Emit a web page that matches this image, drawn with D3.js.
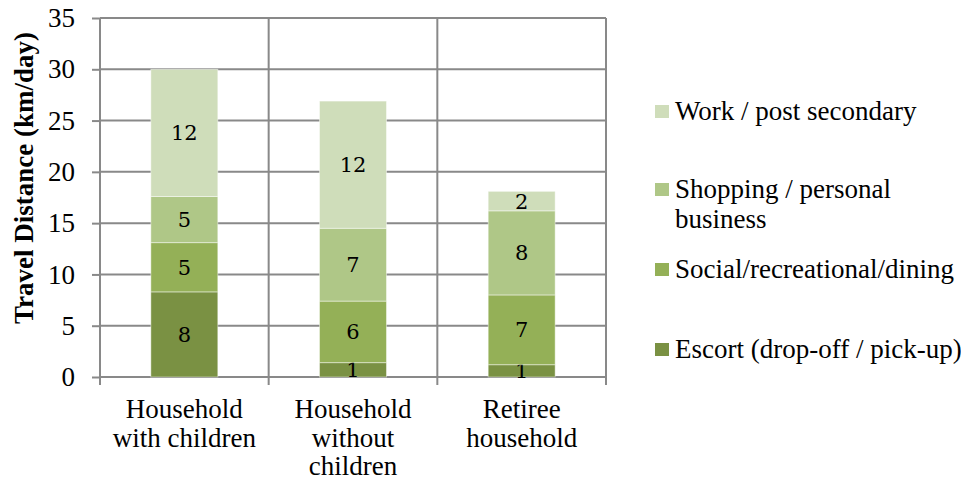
<!DOCTYPE html>
<html>
<head>
<meta charset="utf-8">
<script src="https://cdn.jsdelivr.net/npm/d3@7"></script>
<style>
  html, body { margin: 0; padding: 0; background: #fff; }
  svg { display: block; }
  text { font-family: "Liberation Serif", "Times New Roman", serif; fill: #000; }
</style>
</head>
<body>
<svg id="chart" width="961" height="483"></svg>
<script>
// Household types (x categories, each label split into lines)
const categories = ["Household with children", "Household without children", "Retiree household"];
const categoryLines = [["Household", "with children"], ["Household", "without", "children"], ["Retiree", "household"]];

// Trip purposes, stacked bottom to top
const series = ["Escort (drop-off / pick-up)", "Social/recreational/dining", "Shopping / personal business", "Work / post secondary"];
const legendLines = [["Escort (drop-off / pick-up)"], ["Social/recreational/dining"], ["Shopping / personal", "business"], ["Work / post secondary"]];
const seriesColors = ["#7a9143", "#94b057", "#afc787", "#cfddba"];

// Travel distance (km/day) per purpose, one value per household type
const escort   = [8.3, 1.4, 1.2];
const social   = [4.8, 6.0, 6.8];
const shopping = [4.5, 7.1, 8.2];
const work     = [12.4, 12.4, 1.9];

const yTicks = [0, 5, 10, 15, 20, 25, 30, 35];
const yTitle = "Travel Distance (km/day)";

const values = [escort, social, shopping, work];
const rows = categories.map((c, i) => {
  const r = { category: c };
  series.forEach((s, k) => { r[s] = values[k][i]; });
  return r;
});

const svg = d3.select("#chart");
const plotLeft = 100, plotRight = 606, plotTop = 18, plotBottom = 377;
const fontSize = "27px";

const x = d3.scaleBand().domain(categories).range([plotLeft, plotRight])
  .paddingInner(0.603).paddingOuter(0.3015);
const y = d3.scaleLinear().domain([0, 35]).range([plotBottom, plotTop]);

const gridColor = "#898989";

// horizontal gridlines
svg.append("g").selectAll("line").data(yTicks).join("line")
  .attr("x1", plotLeft).attr("x2", plotRight)
  .attr("y1", d => y(d)).attr("y2", d => y(d))
  .attr("stroke", gridColor).attr("stroke-width", 2);

// vertical separators between categories, extending below as tick marks
const step = x.step();
const bounds = [plotLeft].concat(categories.map(c => x(c) + x.bandwidth() / 2 + step / 2));
svg.append("g").selectAll("line").data(bounds).join("line")
  .attr("x1", d => d).attr("x2", d => d)
  .attr("y1", plotTop).attr("y2", plotBottom + 8)
  .attr("stroke", gridColor).attr("stroke-width", 2);

// y axis with outward ticks
const yAxis = svg.append("g").attr("transform", `translate(${plotLeft},0)`)
  .call(d3.axisLeft(y).tickValues(yTicks).tickSize(8).tickPadding(17));
yAxis.select(".domain").remove();
yAxis.selectAll(".tick line").attr("stroke", gridColor).attr("stroke-width", 2);
yAxis.selectAll(".tick text")
  .style("font-family", "'Liberation Serif', serif").style("font-size", fontSize).attr("fill", "#000");

// y axis title
svg.append("text")
  .attr("transform", `translate(33,178) rotate(-90)`)
  .attr("text-anchor", "middle")
  .style("font-size", fontSize).style("font-weight", "bold")
  .text(yTitle);

// stacked bars
const stack = d3.stack().keys(series)(rows);
const layers = svg.append("g").selectAll("g").data(stack).join("g")
  .attr("fill", (d, i) => seriesColors[i]);
layers.selectAll("rect").data(d => d).join("rect")
  .attr("x", d => x(d.data.category))
  .attr("width", x.bandwidth())
  .attr("y", d => y(d[1]))
  .attr("height", d => y(d[0]) - y(d[1]))
  .attr("stroke", "rgba(255,255,255,0.45)").attr("stroke-width", 1);

// value labels
layers.selectAll("text").data(d => d.map(v => ({ v, key: d.key }))).join("text")
  .attr("x", d => x(d.v.data.category) + x.bandwidth() / 2)
  .attr("y", d => (y(d.v[0]) + y(d.v[1])) / 2)
  .attr("dy", "0.36em")
  .attr("text-anchor", "middle")
  .style("font-family", "'DejaVu Serif', serif").style("font-size", "21px")
  .text(d => d3.format(".0f")(d.v.data[d.key]));

// category labels
const cat = svg.append("g").selectAll("text").data(categories).join("text")
  .attr("x", c => x(c) + x.bandwidth() / 2)
  .attr("y", 418)
  .attr("text-anchor", "middle")
  .style("font-size", fontSize);
cat.selectAll("tspan").data((c, i) => categoryLines[i]).join("tspan")
  .attr("x", function () { return this.parentNode.getAttribute("x"); })
  .attr("dy", (d, j) => j === 0 ? 0 : 28.5)
  .text(d => d);

// legend, top entry is the last series
const legendY = [358, 278, 198, 120];
const legend = svg.append("g").selectAll("g").data(series).join("g")
  .attr("transform", (d, i) => `translate(655,${legendY[i]})`);
legend.append("rect")
  .attr("x", 0).attr("y", -15).attr("width", 14).attr("height", 13)
  .attr("fill", (d, i) => seriesColors[i]);
const lt = legend.append("text").attr("x", 20).attr("y", 0).style("font-size", fontSize);
lt.selectAll("tspan").data((d, i) => legendLines[i]).join("tspan")
  .attr("x", 20).attr("dy", (d, j) => j === 0 ? 0 : 30)
  .text(d => d);
</script>
</body>
</html>
